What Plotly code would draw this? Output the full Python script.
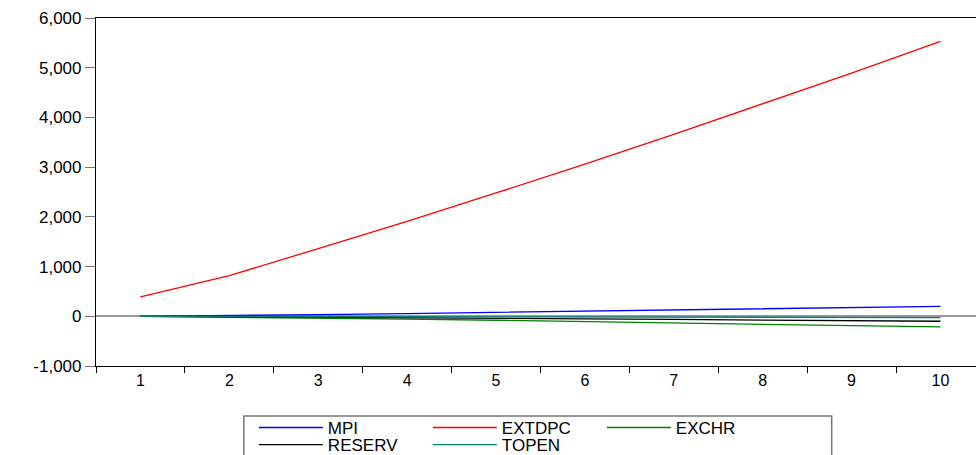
import plotly.graph_objects as go

periods = [1, 2, 3, 4, 5, 6, 7, 8, 9, 10]
mpi = [0, 12, 32, 55, 78, 102, 126, 150, 175, 200]
extdpc = [390, 820, 1360, 1910, 2480, 3060, 3660, 4270, 4890, 5530]
exchr = [0, -15, -35, -57, -80, -105, -130, -157, -185, -215]
reserv = [0, -8, -18, -28, -40, -52, -64, -76, -88, -100]
topen = [0, -3, -6, -9, -12, -15, -18, -20, -23, -25]
y_ticks = [-1000, 0, 1000, 2000, 3000, 4000, 5000, 6000]
y_labels = ["-1,000", "0", "1,000", "2,000", "3,000", "4,000", "5,000", "6,000"]

series = [
    ("MPI", mpi, "#0000ff", "legend"),
    ("EXTDPC", extdpc, "#ff0000", "legend"),
    ("EXCHR", exchr, "#008000", "legend"),
    ("RESERV", reserv, "#000000", "legend2"),
    ("TOPEN", topen, "#008080", "legend2"),
]

fig = go.Figure()
for name, vals, col, leg in series:
    fig.add_trace(go.Scatter(x=periods, y=vals, mode="lines", name=name, legend=leg,
                             line=dict(color=col, width=1.3)))

font = "Liberation Sans, Arial, sans-serif"
leg_common = dict(orientation="h", x=0.1794, xanchor="left", yanchor="middle",
                  borderwidth=0, bgcolor="rgba(0,0,0,0)",
                  entrywidth=95, entrywidthmode="pixels",
                  font=dict(family=font, size=17), tracegroupgap=0, itemwidth=64)
fig.update_layout(
    width=976, height=455,
    margin=dict(l=96, r=0, t=18, b=89, autoexpand=False),
    paper_bgcolor="white", plot_bgcolor="white",
    font=dict(family=font, size=16, color="black"),
    showlegend=True,
    legend=dict(y=-0.178, **leg_common),
    legend2=dict(y=-0.227, **leg_common),
)
fig.add_shape(type="rect", xref="paper", yref="paper",
              x0=0.168, x1=0.836, y0=-0.1437, y1=-0.32,
              line=dict(color="#777777", width=1.5), fillcolor="rgba(0,0,0,0)", layer="below")
fig.update_xaxes(range=[0.5, 10.4], tickvals=periods, ticktext=[str(p) for p in periods],
                 ticks="", showgrid=False, zeroline=False,
                 showline=True, linecolor="black", linewidth=1.2, mirror=True,
                 tickfont=dict(size=16),
                 minor=dict(ticks="outside", tick0=0.5, dtick=1, ticklen=6,
                            tickcolor="black", showgrid=False))
fig.update_yaxes(range=[-1000, 6000], tickvals=y_ticks, ticktext=y_labels,
                 ticks="outside", ticklen=10, tickcolor="#777777",
                 showgrid=False, zeroline=True, zerolinecolor="#999999", zerolinewidth=1.5,
                 showline=True, linecolor="black", linewidth=1.2,
                 tickfont=dict(size=17))
fig.write_html("out.html")
